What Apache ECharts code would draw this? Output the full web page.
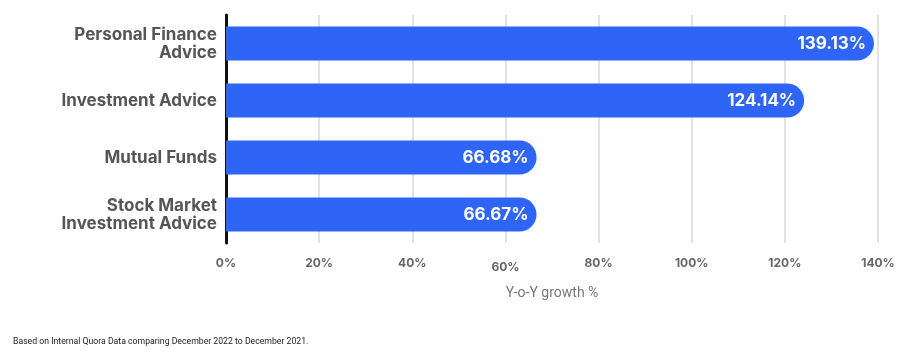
<!DOCTYPE html>
<html>
<head>
<meta charset="utf-8">
<script src="https://cdn.jsdelivr.net/npm/echarts@6/dist/echarts.min.js"></script>
<style>
  html, body { margin: 0; padding: 0; background: #fff; }
  #chart { width: 898px; height: 352px; }
</style>
</head>
<body>
<div id="chart"></div>
<script>
// data
const categories = ["Personal Finance\nAdvice", "Investment Advice", "Mutual Funds", "Stock Market\nInvestment Advice"];
const growth = [139.13, 124.14, 66.68, 66.67];
const ticks = [0, 20, 40, 60, 80, 100, 120, 140];

const myChart = echarts.init(document.getElementById("chart"));

const option = {
  animation: false,
  grid: { left: 226, right: 20, top: 15, bottom: 109 },
  title: {
    text: "Based on Internal Quora Data comparing December 2022 to December 2021.",
    left: 8,
    bottom: 1,
    textStyle: { fontFamily: "Roboto", fontSize: 8.7, fontWeight: "normal", color: "#222" },
  },
  xAxis: {
    type: "value",
    min: ticks[0],
    max: ticks[ticks.length - 1],
    interval: 20,
    name: "Y-o-Y growth %",
    nameLocation: "middle",
    nameGap: 43,
    nameTextStyle: { fontFamily: "Roboto", fontSize: 14, color: "#777" },
    axisLine: { show: false },
    axisTick: { show: false },
    splitLine: { lineStyle: { color: "#e2e2e2", width: 2 } },
    axisLabel: {
      margin: 14,
      fontFamily: "Inter",
      fontSize: 12,
      fontWeight: "bold",
      color: "#666",
      formatter: (v) => (v === 60 ? "{low|" + v + "%}" : v + "%"),
      rich: {
        low: { fontFamily: "Inter", fontSize: 12, fontWeight: "bold", color: "#666", padding: [4, 0, 0, 0] },
      },
    },
  },
  yAxis: {
    type: "category",
    data: categories,
    inverse: true,
    axisLine: { show: true, lineStyle: { color: "#111", width: 3 } },
    axisTick: { show: false },
    axisLabel: {
      margin: 9,
      fontFamily: "Inter",
      fontSize: 17,
      fontWeight: "bold",
      color: "#555",
      align: "right",
      lineHeight: 18,
    },
  },
  series: [
    {
      name: "Y-o-Y growth",
      type: "bar",
      data: growth,
      barWidth: 34,
      z: 1,
      itemStyle: { color: "#2f65f7", borderRadius: [0, 17, 17, 0] },
      label: {
        show: true,
        position: "insideRight",
        distance: 8,
        formatter: (p) => p.value.toFixed(2) + "%",
        fontFamily: "Inter",
        fontSize: 17,
        fontWeight: "bold",
        color: "#fff",
      },
    },
  ],
};

myChart.setOption(option);
</script>
</body>
</html>
